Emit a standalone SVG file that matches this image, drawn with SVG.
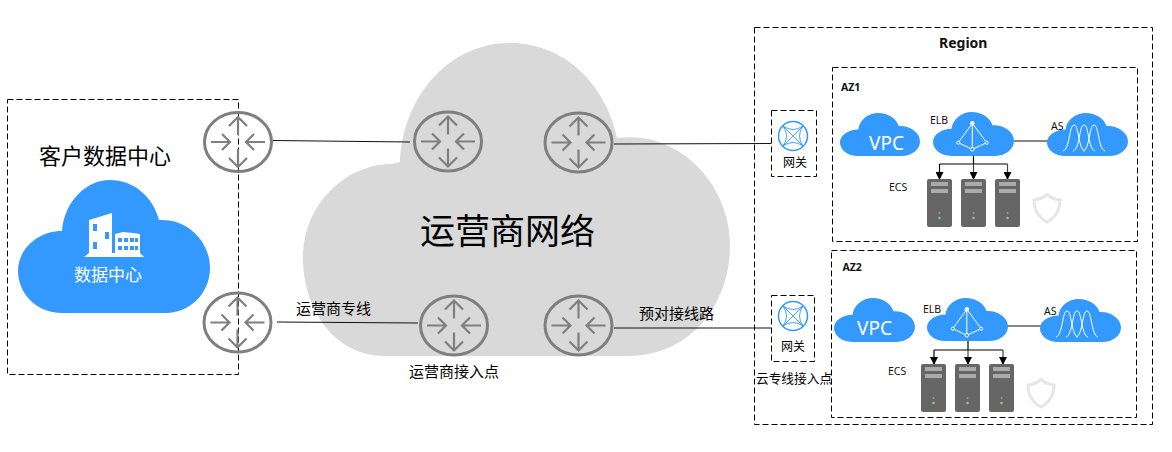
<svg xmlns="http://www.w3.org/2000/svg" width="1172" height="452" viewBox="0 0 1172 452">
<style>
text{font-family:"Noto Sans CJK SC","Noto Sans",sans-serif;fill:#000}
.en{font-family:"Noto Sans","Noto Sans CJK SC",sans-serif;font-size:10.5px;fill:#111}
.b{font-weight:700}
.w{fill:#fff}
.box{fill:none;stroke:#000;stroke-width:1;stroke-dasharray:6 3}
.line{fill:none;stroke:#111;stroke-width:1}
.tree{fill:none;stroke:#000;stroke-width:1.2}
.tree2{fill:none;stroke:#444;stroke-width:1.2;marker-end:url(#arrow)}
.r{fill:none;stroke:#7f7f7f}
.ra{fill:none;stroke:#7f7f7f;stroke-width:2.2}
.gw{fill:none;stroke:#3399ff;stroke-width:.9}
.ic{fill:none;stroke:#fff;stroke-width:1}
</style>
<defs>
<marker id="arrow" viewBox="0 0 8 8" refX="7" refY="4" markerWidth="8" markerHeight="8" markerUnits="userSpaceOnUse" orient="auto"><path d="M0 0L8 4L0 8Z" fill="#000"/></marker>
<symbol id="cloud" viewBox="0 0 192 133" preserveAspectRatio="none">
<path d="M44 133C18 133 0 113 0 91C0 69 20 51 44 51C46 23 67 0 92 0C116 0 135 17 141 40C169 38 192 61 192 88C192 113 172 133 148 133Z" fill="#3399ff"/>
</symbol>
<g id="router">
<ellipse cx="0" cy="0" rx="33.5" ry="29.5" class="r" stroke-width="3"/>
<path class="ra" d="M-27 0H-9M-16-8L-8 0L-16 8M27 0H9M16-8L8 0L16 8M0-7V-25M-9-16L0-25L9-16M0 7V25M-9 16L0 25L9 16"/>
</g>
<g id="server">
<rect width="25" height="48" rx="2" fill="#666"/>
<rect x="4" y="3" width="17" height="4" fill="#aaa"/>
<rect x="4" y="10" width="17" height="4" fill="#aaa"/>
<circle cx="12.5" cy="34" r="1" fill="#999"/>
<circle cx="12.5" cy="39" r="1.3" fill="#6fcf9f"/>
</g>
<path id="shield" d="M14 1.5C18 5 23 6.500 27 7C27 17 23 24 14 29C5 24 1 17 1 7C5 6.500 10 5 14 1.500Z" fill="none" stroke="#e6e6e6" stroke-width="3"/>
<g id="gwicon">
<circle r="14.500" fill="none" stroke="#3399ff" stroke-width="1.500"/>
<path class="gw" d="M-10-10L10 10M-10 10L10-10M-10-10Q0-3 10-10Q3 0 10 10Q0 3-10 10Q-3 0-10-10Z"/>
</g>
<g id="elbicon">
<path class="ic" d="M39.3 11.3L25.3 30.7L39.3 37.3L53.7 30.7ZM39.3 11.3V37.3"/>
<circle cx="39.3" cy="11.3" r="2.2" fill="#fff"/>
<circle cx="25.3" cy="30.7" r="1.6" fill="#3399ff" stroke="#fff"/>
<circle cx="53.7" cy="30.7" r="1.6" fill="#3399ff" stroke="#fff"/>
<circle cx="39.3" cy="37.3" r="1.8" fill="#3399ff" stroke="#fff"/>
</g>
<g id="asicon">
<path class="ic" stroke-width="1.200" d="M16 38C23 36 22 12 27 12C32 12 31 36 38 38M26 38C33 36 32 12 37 12C42 12 41 36 48 38M36 38C43 36 42 12 47 12C52 12 51 36 58 38"/>
</g>
</defs>

<g id="carrier-cloud">
<path d="M385 356C335 356 303 310 303 258C303 205 345 164 392 164L400 162C403 95 450 43 510 43C565 43 606 85 617 138C680 130 730 185 730 245C730 305 690 356 628 356Z" fill="#d9d9d9"/>
<text x="420" y="244" font-size="35">运营商网络</text>
</g>

<g id="customer-dc">
<rect class="box" x="7.500" y="99.500" width="231" height="275"/>
<text x="39" y="164" font-size="22">客户数据中心</text>
<use href="#cloud" x="18" y="180" width="192" height="133"/>
<path d="M89 220L112 213V253H89ZM115 234L123 232L133 233L140 234V253H115ZM84 257L89 253H140L144 257Z" fill="#fff"/>
<path d="M93 224h4v7h-4zM105 232h4v7h-4zM93 242h4v7h-4zM118 238h4v4h-4zM124 238h4v4h-4zM130 238h4v4h-4zM135 238h3v4h-3zM118 246h4v4h-4zM124 246h4v4h-4zM130 246h4v4h-4zM135 246h3v4h-3z" fill="#3399ff"/>
<text x="74" y="281" font-size="17" style="fill:#fff">数据中心</text>
</g>

<g id="connectors">
<path class="line" d="M273 140.500L410 142"/>
<path class="line" d="M277 322L418 323"/>
<path class="line" d="M614 144L771 143.500"/>
<path class="line" d="M614 328H771"/>
<path class="line" d="M1014 141H1048"/>
<path class="line" d="M1007 326H1041"/>
<path class="tree" d="M973.500 156V164M939.500 164H1007.500"/>
<path class="tree" d="M939.500 164V179" marker-end="url(#arrow)"/>
<path class="tree2" d="M973.500 164V179"/>
<path class="tree2" d="M1007.500 164V179"/>
<path class="tree" d="M968 341V350M934 350H1003"/>
<path class="tree" d="M934 350V364" marker-end="url(#arrow)"/>
<path class="tree2" d="M968 350V364"/>
<path class="tree2" d="M1003 350V364"/>
</g>

<g id="router-1"><use href="#router" x="238" y="142"/></g>
<g id="router-2"><use href="#router" x="237.500" y="322.500"/></g>
<g id="router-3"><use href="#router" x="448" y="141.500"/></g>
<g id="router-4"><use href="#router" x="578.500" y="142.500"/></g>
<g id="router-5"><use href="#router" x="454" y="325.500"/></g>
<g id="router-6"><use href="#router" x="578.500" y="325.500"/></g>

<g id="labels">
<text x="296" y="314" font-size="15">运营商专线</text>
<text x="409" y="377" font-size="15">运营商接入点</text>
<text x="639" y="319" font-size="15">预对接线路</text>
<text x="756" y="383" font-size="12.700">云专线接入点</text>
</g>

<g id="region">
<rect class="box" x="754.500" y="27.500" width="398" height="397"/>
<text class="en b" x="939" y="48" style="font-size:14px">Region</text>
</g>

<g id="gateway-1">
<rect class="box" x="771.500" y="110.500" width="45" height="66"/>
<use href="#gwicon" x="793" y="136"/>
<text x="783" y="167" font-size="12">网关</text>
</g>
<g id="gateway-2">
<rect class="box" x="771.500" y="295.500" width="43" height="66"/>
<use href="#gwicon" x="793" y="316"/>
<text x="781" y="351" font-size="12">网关</text>
</g>

<g id="az1">
<rect class="box" x="832.500" y="67.500" width="305" height="174"/>
<text class="en b" x="841" y="91">AZ1</text>
</g>
<g id="vpc-1"><use href="#cloud" x="840" y="113" width="80" height="43"/><text x="869" y="150" style="fill:#fff;font-family:'Noto Sans',sans-serif;font-size:19px">VPC</text></g>
<g id="elb-1"><use href="#cloud" x="933" y="112" width="81" height="44"/><use href="#elbicon" x="933" y="112"/><text class="en" x="930" y="124">ELB</text></g>
<g id="as-1"><use href="#cloud" x="1047" y="113" width="81" height="43"/><use href="#asicon" x="1047" y="113"/><text class="en" x="1051" y="130">AS</text></g>
<g id="ecs-1"><use href="#server" x="927" y="179"/><use href="#server" x="961" y="179"/><use href="#server" x="995" y="179"/><text class="en" x="889" y="191">ECS</text></g>
<g id="shield-1"><use href="#shield" x="1033" y="193"/></g>

<g id="az2">
<rect class="box" x="831.500" y="250.500" width="305" height="167"/>
<text class="en b" x="842.500" y="271">AZ2</text>
</g>
<g id="vpc-2"><use href="#cloud" x="834" y="298" width="81" height="44"/><text x="857" y="335" style="fill:#fff;font-family:'Noto Sans',sans-serif;font-size:19px">VPC</text></g>
<g id="elb-2"><use href="#cloud" x="927" y="298" width="81" height="43"/><use href="#elbicon" x="927.500" y="298"/><text class="en" x="923" y="313">ELB</text></g>
<g id="as-2"><use href="#cloud" x="1040" y="299" width="81" height="43"/><use href="#asicon" x="1040" y="299"/><text class="en" x="1044" y="315">AS</text></g>
<g id="ecs-2"><use href="#server" x="921" y="364"/><use href="#server" x="955" y="364"/><use href="#server" x="989" y="364"/><text class="en" x="888" y="375">ECS</text></g>
<g id="shield-2"><use href="#shield" x="1027" y="378"/></g>
</svg>
